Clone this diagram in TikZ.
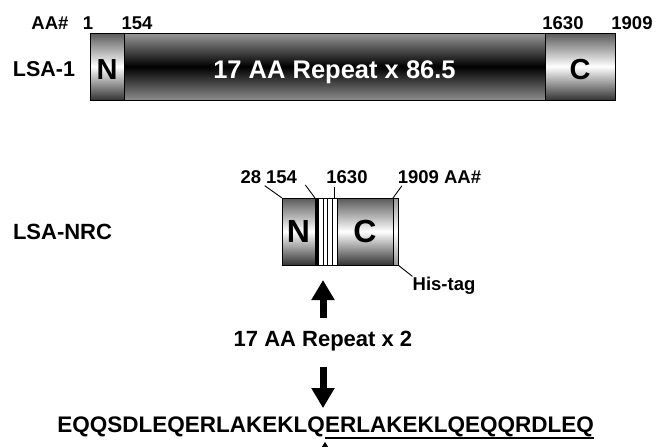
\documentclass[tikz,border=0pt]{standalone}
\usepackage{fontspec}
\setmainfont{Liberation Sans}
\usetikzlibrary{positioning,arrows.meta}

\tikzset{
  seg/.style={draw, line width=0.8pt, inner sep=0pt, outer sep=0pt,
    minimum height=67pt, font=\fontsize{29}{30}\selectfont\bfseries},
  endshade/.style={top color=black!65, bottom color=black!80, middle color=white},
  repshade/.style={top color=black!40, bottom color=black!45, middle color=black},
  lbl/.style={inner sep=0pt, font=\fontsize{18.5}{20}\selectfont\bfseries},
  rowlbl/.style={inner sep=0pt, font=\fontsize{22}{24}\selectfont\bfseries},
  lead/.style={line width=0.9pt},
  bigarrow/.style={line width=7pt, -{Triangle[width=22pt,length=20pt]}},
}

\begin{document}
\begin{tikzpicture}[x=1pt,y=-1pt]
\useasboundingbox (0,0) rectangle (657,447);
\clip (0,0) rectangle (657,447);

% LSA-1
\node[rowlbl, anchor=base, font=\fontsize{21.5}{23}\selectfont\bfseries] (lsa1) at (44,76) {LSA-1};
\node[seg, endshade, minimum width=34pt, anchor=north west, text height=26pt, text depth=0pt] (lsaN) at (90,33) {N};
\node[seg, repshade, minimum width=421pt, right=0pt of lsaN, text=white, text height=23pt, text depth=0pt,
  font=\fontsize{25.5}{27}\selectfont\bfseries] (lsaRep) {17 AA Repeat x 86.5};
\node[seg, endshade, minimum width=70pt, right=0pt of lsaRep, text height=26pt, text depth=0pt] (lsaC) {C};

\node[lbl, anchor=base] (aa1) at (50,30) {AA\#};
\node[lbl, anchor=base] (p1) at (88,30) {1};
\node[lbl, anchor=base] (p154) at (137,30) {154};
\node[lbl, anchor=base] (p1630) at (563,30) {1630};
\node[lbl, anchor=base] (p1909) at (632,30) {1909};

% LSA-NRC
\node[rowlbl, anchor=base] (nrc) at (62.5,239) {LSA-NRC};
\node[seg, endshade, minimum width=33pt, anchor=north west, font=\fontsize{32}{33}\selectfont\bfseries] (nrcN) at (282,198) {N};
\node[seg, fill=white, minimum width=22pt, right=0pt of nrcN] (nrcRep) {};
\node[seg, endshade, minimum width=56pt, right=0pt of nrcRep, font=\fontsize{32}{33}\selectfont\bfseries] (nrcC) {C};
\node[seg, top color=black!40, bottom color=black!40, middle color=white, minimum width=5pt, right=0pt of nrcC] (nrcHis) {};
\fill (nrcRep.north west) rectangle ([xshift=4pt]nrcRep.south west);
\foreach \dx in {8,12.5,17}
  \draw[line width=1pt] ([xshift=\dx pt]nrcRep.north west) -- ([xshift=\dx pt]nrcRep.south west);

\node[lbl, anchor=base] (m28) at (251,183) {28};
\node[lbl, anchor=base] (m154) at (281.5,183) {154};
\node[lbl, anchor=base] (m1630) at (347,183) {1630};
\node[lbl, anchor=base] (m1909) at (439.5,183) {1909 AA\#};
\node[lbl, anchor=base] (his) at (444,290) {His-tag};

\coordinate (c1630) at ([xshift=-3pt]nrcRep.north east);
\draw[lead, shorten <=4pt] (m28.south east) -- (nrcN.north west);
\draw[lead, shorten <=2pt] ([xshift=7pt]m154.south east) -- (nrcN.north east);
\draw[lead, shorten <=4pt] (c1630 |- m1630.south) -- (c1630);
\draw[lead, shorten <=3pt] ([xshift=6pt]m1909.south west) -- (nrcC.north east);
\draw[lead] (nrcHis.south east) -- (his.north west);

% repeat and sequence
\node[rowlbl, anchor=base] (rep2) at (323,346.5) {17 AA Repeat x 2};
\node[rowlbl, anchor=base east, font=\fontsize{22.5}{24}\selectfont\bfseries] (seq1) at (325,432) {EQQSDLEQERLAKEKLQ};
\node[rowlbl, anchor=base west, font=\fontsize{22.5}{24}\selectfont\bfseries] (seq2) at (seq1.base east) {ERLAKEKLQEQQRDLEQ};

\draw[bigarrow, shorten <=13pt, shorten >=15pt] (rep2.north) -- (rep2.north |- nrcRep.south);
\draw[bigarrow, shorten <=16pt, shorten >=8pt] (rep2.south) -- (rep2.south |- seq2.north);

\draw[line width=1.3pt] ([yshift=-6pt]seq2.base west) -- ([yshift=-6pt]seq2.base east);
\coordinate (caret) at ([yshift=-9.5pt]seq2.base west);
\coordinate (caretfoot) at ([yshift=-40pt]caret);
\draw[bigarrow] (caretfoot) -- (caret);
\end{tikzpicture}
\end{document}
